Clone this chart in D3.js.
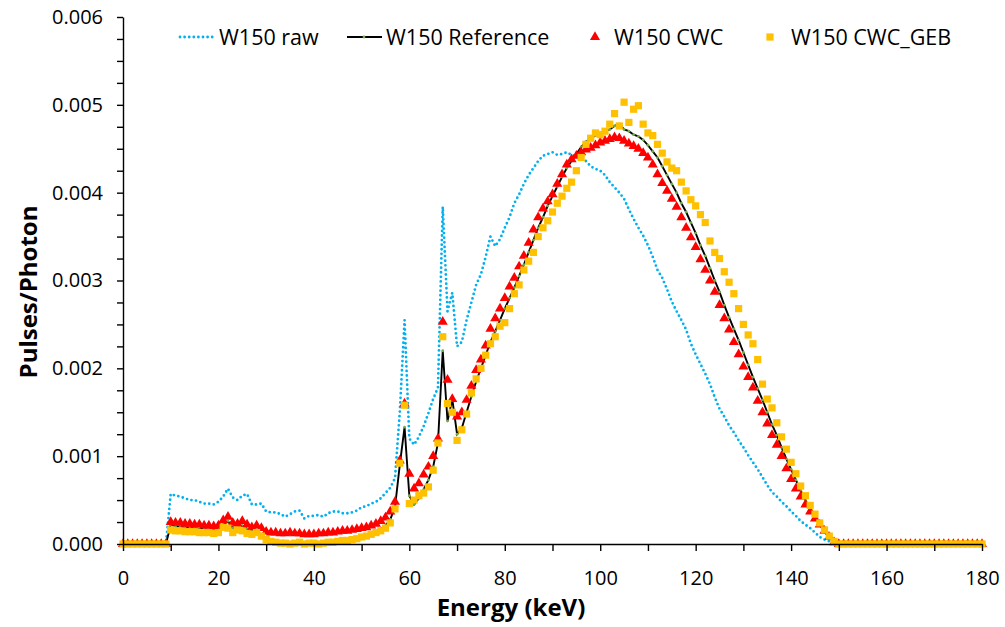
<!DOCTYPE html>
<html lang="en">
<head>
<meta charset="utf-8">
<title>W150 spectra</title>
<script src="https://cdn.jsdelivr.net/npm/d3@7"></script>
<style>
  body { margin: 0; background: #fff; }
  text { font-family: "Open Sans", sans-serif; fill: #000; }
</style>
</head>
<body>
<script>
// energy bins (keV), one per keV from 0 to 180
var energy = d3.range(0, 181);

// all series below are in units of 1e-5 pulses/photon
var unit = 1e-5;

var raw = [
  0, 0, 0, 0, 0, 0, 0, 0, 0, 0,
  57, 55, 54, 52, 50, 50, 48, 46, 46, 45,
  48, 54, 63, 53, 50, 55, 57, 45, 45, 46,
  37, 36, 36, 34, 31, 34, 37, 38, 29, 32,
  32, 33, 31, 35, 37, 37, 35, 35, 36, 38,
  42, 43, 46, 48, 52, 58, 64, 75, 150, 255,
  120, 113, 122, 134, 149, 165, 178, 384, 265, 286,
  225, 230, 255, 275, 295, 307, 327, 350, 339, 347,
  360, 372, 388, 398, 410, 420, 428, 436, 442, 444,
  446, 443, 444, 446, 443, 442, 441, 436, 430, 427,
  425, 420, 412, 406, 400, 393, 381, 370, 360, 351,
  340, 327, 312, 303, 290, 276, 265, 255, 244, 228,
  216, 205, 194, 182, 167, 154, 145, 135, 127, 118,
  110, 101, 93, 85, 76, 67, 59, 54, 48, 43,
  37, 32, 26, 22, 18, 13, 8, 5, 3, 0,
  0, 0, 0, 0, 0, 0, 0, 0, 0, 0,
  0, 0, 0, 0, 0, 0, 0, 0, 0, 0,
  0, 0, 0, 0, 0, 0, 0, 0, 0, 0,
  0
];

var reference = [
  0, 0, 0, 0, 0, 0, 0, 0, 0, 0,
  22, 20, 19, 19, 18, 18, 17, 17, 16, 16,
  17, 22, 26, 18, 19, 21, 17, 15, 16, 10,
  5, 3, 2, 1, 1, 1, 1, 1, 1, 1,
  1, 1, 2, 2, 2, 3, 4, 5, 6, 7,
  9, 10, 12, 14, 17, 21, 28, 42, 90, 133,
  55, 45, 52, 62, 73, 88, 115, 220, 140, 165,
  125, 132, 150, 168, 185, 200, 215, 230, 242, 255,
  268, 280, 292, 305, 318, 332, 346, 360, 372, 385,
  396, 407, 418, 428, 436, 444, 452, 458, 462, 465,
  468, 470, 472, 476, 478, 472, 470, 466, 464, 460,
  454, 447, 440, 430, 420, 410, 400, 388, 378, 366,
  354, 340, 328, 314, 300, 287, 272, 258, 245, 232,
  218, 204, 190, 177, 164, 150, 136, 124, 110, 97,
  85, 73, 61, 50, 40, 31, 22, 14, 7, 2,
  0, 0, 0, 0, 0, 0, 0, 0, 0, 0,
  0, 0, 0, 0, 0, 0, 0, 0, 0, 0,
  0, 0, 0, 0, 0, 0, 0, 0, 0, 0,
  0
];

var cwc = [
  0, 0, 0, 0, 0, 0, 0, 0, 0, 0,
  25, 24, 24, 23, 23, 22, 22, 21, 21, 20,
  21, 27, 31, 24, 23, 26, 22, 19, 21, 18,
  14, 13, 13, 12, 12, 13, 12, 12, 11, 11,
  11, 12, 12, 13, 13, 14, 15, 15, 16, 17,
  18, 19, 21, 23, 26, 30, 37, 48, 95, 160,
  80, 63, 69, 79, 88, 100, 120, 253, 187, 165,
  145, 150, 164, 180, 198, 210, 226, 245, 257, 268,
  280, 293, 303, 316, 328, 343, 358, 372, 382, 390,
  398, 410, 421, 432, 438, 442, 446, 449, 451, 454,
  457, 459, 461, 463, 462, 459, 456, 453, 450, 445,
  440, 432, 421, 411, 402, 393, 384, 372, 360, 349,
  338, 324, 312, 300, 287, 272, 257, 244, 230, 216,
  202, 190, 178, 163, 150, 137, 124, 113, 100, 86,
  74, 63, 54, 45, 37, 29, 22, 15, 8, 2,
  0, 0, 0, 0, 0, 0, 0, 0, 0, 0,
  0, 0, 0, 0, 0, 0, 0, 0, 0, 0,
  0, 0, 0, 0, 0, 0, 0, 0, 0, 0,
  0
];

var cwcGeb = [
  0, 0, 0, 0, 0, 0, 0, 0, 0, 0,
  16, 15, 15, 14, 14, 14, 13, 13, 13, 12,
  13, 19, 18, 13, 16, 15, 12, 11, 13, 9,
  5, 3, 2, 1, 1, 0, 1, 2, 0, 1,
  1, 0, 1, 2, 2, 3, 4, 4, 5, 6,
  8, 9, 11, 13, 15, 18, 24, 40, 92, 158,
  46, 50, 55, 58, 65, 84, 115, 236, 160, 150,
  118, 130, 148, 172, 188, 200, 215, 228, 236, 248,
  252, 268, 285, 295, 312, 322, 332, 350, 360, 368,
  378, 388, 396, 405, 412, 425, 440, 455, 462, 468,
  466, 470, 478, 490, 476, 503, 480, 495, 499, 478,
  468, 465, 455, 445, 435, 428, 425, 412, 402, 392,
  385, 375, 366, 345, 332, 325, 310, 298, 285, 268,
  250, 238, 228, 210, 182, 165, 155, 138, 122, 108,
  93, 80, 66, 55, 44, 34, 24, 16, 9, 3,
  0, 0, 0, 0, 0, 0, 0, 0, 0, 0,
  0, 0, 0, 0, 0, 0, 0, 0, 0, 0,
  0, 0, 0, 0, 0, 0, 0, 0, 0, 0,
  0
];

var seriesNames = ["W150 raw", "W150 Reference", "W150 CWC", "W150 CWC_GEB"];
var xTicks = d3.range(0, 181, 10);
var yTicks = d3.range(0, 0.006001, 0.00025);

var w = 1005;
var h = 627;

var svg = d3.select("body").append("svg")
  .attr("width", w)
  .attr("height", h);

var xScale = d3.scaleLinear().domain([0, 180]).range([123, 982]);
var yScale = d3.scaleLinear().domain([0, 0.006]).range([544, 17]);

function pts(arr) {
  return energy.map(function (e, i) { return [e, arr[i] * unit]; });
}

var line = d3.line()
  .x(function (d) { return xScale(d[0]); })
  .y(function (d) { return yScale(d[1]); });

// raw: dotted blue line
svg.append("path")
  .attr("d", line(pts(raw)))
  .attr("fill", "none")
  .attr("stroke", "#00B0F0")
  .attr("stroke-width", 2.8)
  .attr("stroke-linecap", "round")
  .attr("stroke-dasharray", "0,4.6");

// reference: black line with tiny green markers
svg.append("path")
  .attr("d", line(pts(reference)))
  .attr("fill", "none")
  .attr("stroke", "#000")
  .attr("stroke-width", 1.9);

svg.append("g").selectAll("circle")
  .data(pts(reference))
  .enter().append("circle")
  .attr("cx", function (d) { return xScale(d[0]); })
  .attr("cy", function (d) { return yScale(d[1]); })
  .attr("r", 1.4)
  .attr("fill", "#70AD47");

// CWC: red triangles
var tri = d3.symbol().type(d3.symbolTriangle).size(44);
svg.append("g").selectAll("path")
  .data(pts(cwc))
  .enter().append("path")
  .attr("d", tri)
  .attr("transform", function (d) {
    return "translate(" + xScale(d[0]) + "," + yScale(d[1]) + ")";
  })
  .attr("fill", "#FF0000");

// CWC_GEB: orange squares
var sq = 7.2;
svg.append("g").selectAll("rect")
  .data(pts(cwcGeb))
  .enter().append("rect")
  .attr("x", function (d) { return xScale(d[0]) - sq / 2; })
  .attr("y", function (d) { return yScale(d[1]) - sq / 2; })
  .attr("width", sq)
  .attr("height", sq)
  .attr("fill", "#FFC000");

// axes
var xAxis = d3.axisBottom(xScale)
  .tickValues(xTicks)
  .tickSize(7)
  .tickSizeOuter(0)
  .tickPadding(20)
  .tickFormat(function (d) { return d % 20 === 0 ? d : ""; });

var yAxis = d3.axisLeft(yScale)
  .tickValues(yTicks)
  .tickSize(6)
  .tickSizeOuter(0)
  .tickPadding(14)
  .tickFormat(function (d) {
    return Math.abs(d * 1000 - Math.round(d * 1000)) < 1e-6 ? d3.format(".3f")(d) : "";
  });

var gx = svg.append("g")
  .attr("transform", "translate(0,544)")
  .call(xAxis);

var gy = svg.append("g")
  .attr("transform", "translate(123,0)")
  .call(yAxis);

[gx, gy].forEach(function (g) {
  g.selectAll("path, line").attr("stroke", "#000").attr("stroke-width", 1.4);
  g.selectAll("text")
    .attr("font-family", "Open Sans, sans-serif")
    .attr("font-size", "20px")
    .attr("fill", "#000");
});

// axis titles
svg.append("text")
  .attr("x", 511)
  .attr("y", 616)
  .attr("text-anchor", "middle")
  .attr("font-size", "24px")
  .attr("font-weight", "bold")
  .text("Energy (keV)");

svg.append("text")
  .attr("transform", "translate(37,292) rotate(-90)")
  .attr("text-anchor", "middle")
  .attr("font-size", "24px")
  .attr("font-weight", "bold")
  .text("Pulses/Photon");

// legend
var lg = svg.append("g").attr("font-size", "21.5px");
var ly = 37;

lg.append("line")
  .attr("x1", 180).attr("x2", 215).attr("y1", ly).attr("y2", ly)
  .attr("stroke", "#00B0F0").attr("stroke-width", 2.8)
  .attr("stroke-linecap", "round").attr("stroke-dasharray", "0,4.6");
lg.append("text").attr("x", 219).attr("y", ly + 8).text(seriesNames[0]);

lg.append("line")
  .attr("x1", 347).attr("x2", 382).attr("y1", ly).attr("y2", ly)
  .attr("stroke", "#000").attr("stroke-width", 1.9);
lg.append("circle").attr("cx", 364).attr("cy", ly).attr("r", 1.4).attr("fill", "#70AD47");
lg.append("text").attr("x", 386).attr("y", ly + 8).text(seriesNames[1]);

lg.append("path").attr("d", tri).attr("transform", "translate(595," + ly + ")").attr("fill", "#FF0000");
lg.append("text").attr("x", 614).attr("y", ly + 8).text(seriesNames[2]);

lg.append("rect").attr("x", 770 - sq / 2).attr("y", ly - sq / 2).attr("width", sq).attr("height", sq).attr("fill", "#FFC000");
lg.append("text").attr("x", 791).attr("y", ly + 8).text(seriesNames[3]);
</script>
</body>
</html>
